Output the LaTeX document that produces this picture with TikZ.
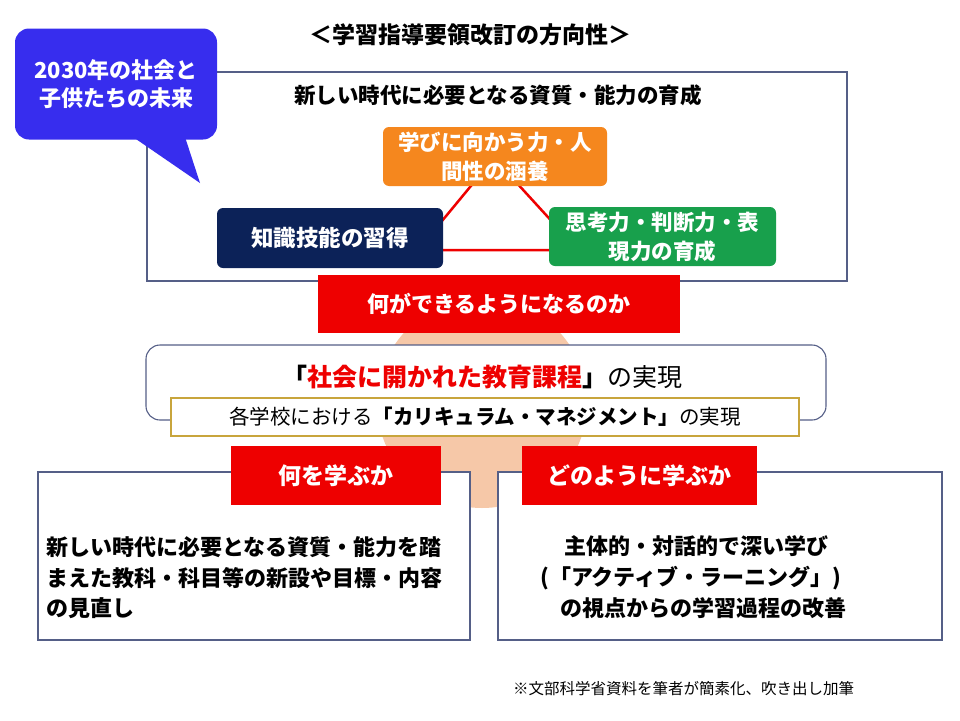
\documentclass[tikz,border=0pt]{standalone}
\usepackage{fontspec}
\setmainfont{Noto Sans CJK JP}
\definecolor{bubbleblue}{RGB}{55,45,238}
\definecolor{learnorange}{RGB}{245,135,30}
\definecolor{knownavy}{RGB}{12,34,88}
\definecolor{thinkgreen}{RGB}{24,160,76}
\definecolor{boxred}{RGB}{238,0,0}
\definecolor{framegray}{RGB}{85,95,135}
\definecolor{goldline}{RGB}{200,165,60}
\definecolor{peach}{RGB}{246,200,168}
\newcommand{\fs}[2]{\fontsize{#1}{#2}\selectfont}

\begin{document}
\begin{tikzpicture}[x=1pt,y=-1pt,
  skill/.style={rounded corners=6pt, text=white, align=center, inner sep=0pt, font=\bfseries\fs{21.5}{29}},
  redbox/.style={fill=boxred, text=white, inner sep=0pt, font=\bfseries\fs{22}{29}},
  frame/.style={draw=framegray, line width=1.1pt, fill=white}]
\useasboundingbox (0,0) rectangle (960,720);
\fill[peach] (482,403) circle (105);
\draw[frame] (147,72) rectangle (847,281);
\node[font=\bfseries\fs{23}{26}] (title) at (470,35) {＜学習指導要領改訂の方向性＞};
\node[font=\bfseries\fs{21.5}{26}] (aim) at (498,95) {新しい時代に必要となる資質・能力の育成};
\coordinate (ta) at (494,158);
\coordinate (tb) at (418,250);
\coordinate (tc) at (578,250);
\draw[boxred, line width=2.5pt] (ta) -- (tb) -- (tc) -- cycle;
\node[skill, fill=learnorange, minimum width=224, minimum height=59] (motive) at (495,156.5) {学びに向かう力・人\\間性の涵養};
\node[skill, fill=knownavy, minimum width=226, minimum height=60, font=\bfseries\fs{22.5}{29}] (knowledge) at (330,238) {知識技能の習得};
\node[skill, fill=thinkgreen, minimum width=227, minimum height=59] (thinking) at (662.5,236.5) {思考力・判断力・表\\現力の育成};
\node[fill=bubbleblue, rounded corners=14pt, minimum width=202, minimum height=111, inner sep=0pt, text=white, align=center, font=\bfseries\fs{22}{28}] (bubble) at (116,84) {2030年の社会と\\子供たちの未来};
\fill[bubbleblue] (133,137) -- (200,183) -- (185,137) -- cycle;
\node[redbox, minimum width=362, minimum height=58] (outcome) at (499,304) {何ができるようになるのか};
\draw[frame, rounded corners=14pt] (146,345) rectangle (826,420);
\node[font=\fs{25}{28}] (society) at (482,377) {{\bfseries「\textcolor{boxred}{社会に開かれた教育課程}」}の実現};
\node[draw=goldline, line width=1.2pt, fill=white, minimum width=628, minimum height=38, inner sep=0pt, font=\fs{20.5}{24}] (manage) at (485,417) {各学校における{\bfseries「カリキュラム・マネジメント」}の実現};
\draw[frame] (38,472) rectangle (470,640);
\draw[frame] (498,472) rectangle (942,640);
\node[redbox, minimum width=210, minimum height=59, font=\bfseries\fs{23}{29}] (what) at (336,475.5) {何を学ぶか};
\node[redbox, minimum width=235, minimum height=59, font=\bfseries\fs{23}{29}] (how) at (639.5,475.5) {どのように学ぶか};
\node[font=\bfseries\fs{22}{30.5}, align=left, anchor=west, inner sep=0pt] (whattext) at (46,578) {新しい時代に必要となる資質・能力を踏\\まえた教科・科目等の新設や目標・内容\\の見直し};
\node[font=\bfseries\fs{22}{31}, align=left, anchor=west, inner sep=0pt] (howtext) at (540,577) {\hspace*{24pt}主体的・対話的で深い学び\\(「アクティブ・ラーニング」)\\\hspace*{20pt}の視点からの学習過程の改善};
\node[font=\fs{15.5}{20}, anchor=west, inner sep=0pt] (source) at (513,689) {※文部科学省資料を筆者が簡素化、吹き出し加筆};
\end{tikzpicture}
\end{document}
